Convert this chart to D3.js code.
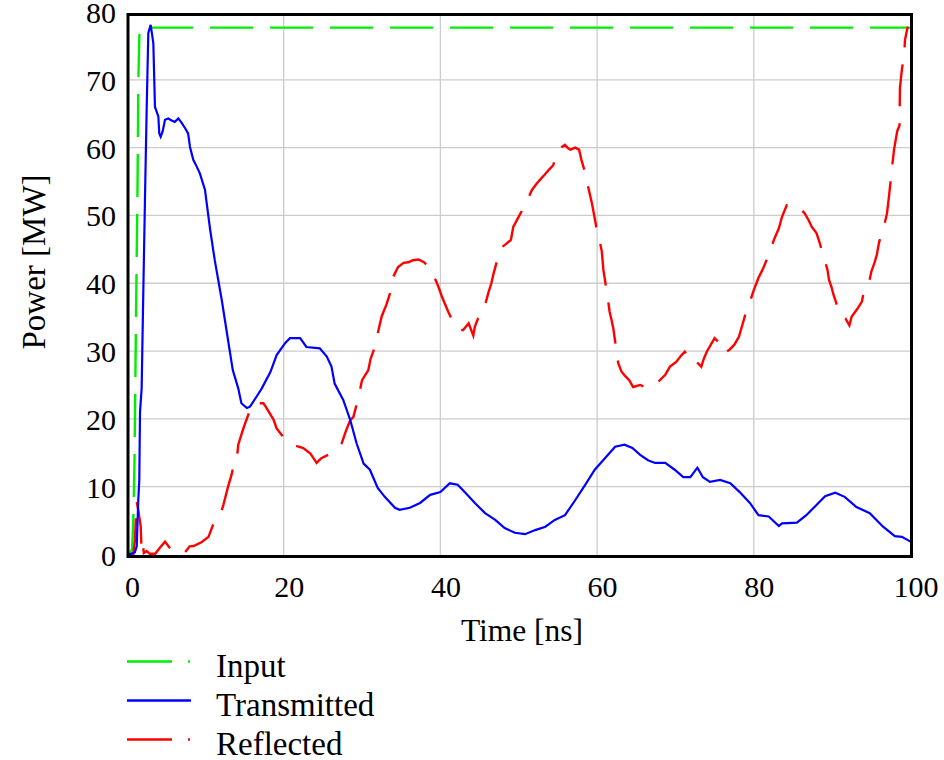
<!DOCTYPE html>
<html>
<head>
<meta charset="utf-8">
<script src="https://cdn.jsdelivr.net/npm/d3@7"></script>
<style>
  html, body { margin: 0; padding: 0; background: #fff; }
  svg { display: block; }
  text { font-family: "Liberation Serif", "Times New Roman", serif; fill: #000; }
</style>
</head>
<body>
<svg id="chart" width="944" height="760"></svg>
<script>
// Tick values and labels
const xTicks = [0, 20, 40, 60, 80, 100];
const yTicks = [0, 10, 20, 30, 40, 50, 60, 70, 80];

// Series: [time (ns), power (MW)]
const inputPower = [
  [0, 0], [0.4, 0.2], [0.65, 0.8], [0.8, 5], [0.95, 13], [1.05, 24], [1.2, 40],
  [1.35, 55], [1.45, 70], [1.6, 77.7], [100, 77.7]
];

const transmittedPower = [
  [0, 0], [0.5, 0.1], [1.0, 0.3], [1.24, 1.2], [1.44, 8], [1.57, 11], [1.66, 21],
  [1.87, 24.5], [2.1, 40], [2.3, 52.8], [2.51, 65.6], [2.72, 76.9], [3.02, 78.1],
  [3.36, 75.4], [3.57, 66], [4.0, 64.6], [4.12, 62.1], [4.3, 61.6], [4.55, 62.4],
  [4.85, 64.1], [5.27, 64.3], [5.7, 64], [6.1, 63.8], [6.55, 64.3], [7.0, 63.6],
  [7.4, 62.9], [7.8, 62.1], [8.04, 60.1], [8.46, 58.2], [8.9, 57.2], [9.3, 56.2],
  [9.95, 53.8], [10.6, 48], [11.2, 43.4], [12.1, 37.5], [12.9, 31.6], [13.5, 27.2],
  [14.2, 24.5], [14.6, 22.3], [15.3, 21.6], [15.7, 21.8], [16.55, 23.3], [17.2, 24.5],
  [18.3, 26.9], [19.1, 29.4], [20.2, 31.2], [20.8, 31.9], [22.1, 31.9], [22.9, 30.6],
  [24.6, 30.4], [25.5, 29.2], [26.1, 27.7], [26.5, 25.2], [27.6, 22.8], [28.5, 19.8],
  [29.3, 16.4], [30.2, 13.4], [31, 12.5], [32, 9.8], [32.9, 8.5], [34.2, 6.9],
  [34.8, 6.6], [36.1, 6.9], [37.4, 7.6], [38.7, 8.8], [40, 9.2], [41.2, 10.5],
  [42.2, 10.3], [43.1, 9.2], [44.4, 7.6], [45.7, 6.1], [47, 5.1], [48.2, 3.9],
  [49.5, 3.2], [50.8, 3], [52.1, 3.6], [53.4, 4.1], [54.6, 5.1], [55.9, 5.8],
  [57.2, 8], [58.5, 10.3], [59.7, 12.5], [61, 14.2], [62.3, 15.9], [63.5, 16.2],
  [64.5, 15.7], [65.5, 14.7], [66.5, 13.9], [67.4, 13.5], [68.7, 13.5], [69.9, 12.5],
  [71, 11.4], [71.9, 11.4], [72.8, 12.8], [73.5, 11.4], [74.4, 10.7], [75.7, 11],
  [77, 10.5], [78.2, 9.2], [79.5, 7.6], [80.6, 5.8], [81.9, 5.6], [83.2, 4.2],
  [83.6, 4.6], [85.5, 4.7], [86.7, 5.8], [88, 7.3], [89.1, 8.6], [90.4, 9.1],
  [91.6, 8.5], [93.1, 7], [94.8, 6.1], [96.5, 4.1], [98, 2.7], [98.9, 2.6], [100, 1.9]
];

const reflectedPower = [
  [0, 0], [0.8, 0.1], [1.0, 2], [1.24, 7.8], [1.45, 6.5], [1.75, 4.1], [1.85, 0.8],
  [2.0, 1.7], [2.15, 0.2], [2.5, 0.5], [2.9, 0.1], [3.6, 0.1], [4.2, 1.0], [4.85, 1.9],
  [5.5, 0.9], [6.1, 0.3], [7.4, 0.3], [8.0, 1.2], [8.5, 1.25], [9.5, 1.8], [10.4, 2.6],
  [11, 4.4], [11.9, 5.8], [12.3, 7.3], [12.9, 10], [13.4, 12], [13.6, 13.2], [14, 13.9],
  [14.2, 16.2], [14.8, 18.4], [15.1, 19.4], [15.7, 21.3], [16.1, 22.2], [16.8, 22.3],
  [17.4, 22.3], [17.7, 21.8], [18.7, 19.9], [19.1, 18.6], [19.9, 17.4], [21, 16.2],
  [22.5, 15.7], [23.4, 14.9], [24.2, 13.5], [24.8, 14.2], [25.7, 14.7], [26.8, 15.7],
  [27.4, 16.4], [28, 18.4], [28.5, 19.8], [28.9, 20.3], [29.5, 23], [30, 25.7],
  [30.8, 27.2], [31.1, 28.9], [31.8, 31.1], [32.1, 33.1], [32.5, 35.1], [33.1, 36.8],
  [33.7, 39], [34, 41], [34.6, 42.4], [35.3, 43], [35.9, 43.1], [36.5, 43.4],
  [37.2, 43.5], [37.9, 43.1], [38.7, 42.2], [39.1, 41.2], [39.5, 40.2], [39.9, 39],
  [40.2, 38], [41, 35.8], [41.4, 34.8], [42.1, 34.1], [42.5, 33.1], [42.9, 33.1],
  [43.6, 34.1], [44.2, 32.3], [44.4, 33.6], [44.8, 34.8], [45.3, 35.6], [45.7, 36.8],
  [46.1, 38.5], [46.5, 40], [46.8, 41.5], [47.2, 43.2], [47.8, 45.3], [48.4, 45.8],
  [49, 46.4], [49.3, 48.3], [49.9, 49.6], [50.6, 51.1], [51.2, 52.5], [51.7, 53.8],
  [52.3, 54.7], [52.9, 55.5], [53.3, 56], [53.9, 56.8], [54.4, 57.4], [54.6, 58.2],
  [55.1, 59.7], [55.5, 60.1], [55.9, 60.4], [56.3, 59.9], [56.6, 59.7], [57.2, 60],
  [57.7, 59.7], [58, 58.2], [58.5, 56.2], [58.7, 55], [59, 53.5], [59.3, 52],
  [59.5, 50.8], [59.9, 48.3], [60.3, 46.4], [60.6, 44.7], [60.8, 42], [61.2, 39],
  [61.4, 37.5], [61.6, 35.8], [61.9, 34.3], [62.1, 33.1], [62.4, 30.6], [62.7, 28.2],
  [63.1, 27], [63.6, 26.3], [64.1, 25.7], [64.6, 24.7], [65.5, 25], [66.1, 24.7],
  [66.5, 24.7], [67, 24.8], [67.4, 25], [68, 25.7], [68.7, 26.5], [69.3, 27.7],
  [70.1, 28.4], [70.7, 29.3], [71.2, 29.9], [71.6, 29.2], [72.1, 29.4], [72.7, 28.4],
  [73.3, 27.7], [73.6, 28.8], [74, 29.9], [74.5, 30.9], [75, 31.9], [75.7, 31.1],
  [76.2, 29.7], [76.9, 30.2], [77.5, 30.9], [78.1, 32.1], [78.6, 34.1], [79.1, 36.1],
  [79.6, 37.6], [80, 39], [80.6, 40.8], [81.2, 42.2], [81.9, 44.2], [82.6, 46.5],
  [83.2, 48.1], [83.6, 49.8], [84.2, 51.5], [84.6, 51.3], [85.2, 51.4], [85.8, 51.2],
  [86.5, 50.3], [87, 49.3], [87.4, 48.3], [88, 47.4], [88.4, 46], [88.7, 44.7],
  [89.1, 43.2], [89.4, 42], [89.6, 40.5], [89.9, 39.5], [90.2, 38.2], [90.6, 36.8],
  [91, 35.3], [91.7, 34.8], [92.2, 33.8], [92.5, 35.1], [93.2, 36.2], [93.8, 37.3],
  [94, 38.5], [94.6, 39.5], [95, 41.7], [95.4, 43], [95.7, 44.2], [96, 46.1],
  [96.6, 48.3], [97, 50.3], [97.3, 53.3], [97.6, 56.7], [97.9, 59.7], [98.3, 62.4],
  [98.6, 63.3], [98.65, 68.8], [98.9, 71.5], [99.2, 73.9], [99.3, 75.9], [99.6, 77.6],
  [99.7, 77.8]
];

const seriesNames = ["Input", "Transmitted", "Reflected"];
const seriesColors = ["#00ee00", "#0000ff", "#ff0000"];

// Layout
const frame = { left: 128, right: 911.5, top: 14.5, bottom: 556.5 };
const x = d3.scaleLinear().domain([0, 100]).range([127, 910.5]);
const y = d3.scaleLinear().domain([0, 80]).range([554.5, 12]);

const svg = d3.select("#chart");

// Grid lines
const grid = svg.append("g").attr("class", "grid");
grid.selectAll("line.gx")
  .data(xTicks.filter(t => t > 0 && t < 100))
  .join("line")
  .attr("x1", d => x(d)).attr("x2", d => x(d))
  .attr("y1", frame.top).attr("y2", frame.bottom)
  .attr("stroke", "#cccccc").attr("stroke-width", 1.3);
grid.selectAll("line.gy")
  .data(yTicks.filter(t => t > 0 && t < 80))
  .join("line")
  .attr("y1", d => y(d)).attr("y2", d => y(d))
  .attr("x1", frame.left).attr("x2", frame.right)
  .attr("stroke", "#cccccc").attr("stroke-width", 1.3);

// Axes (labels only; frame drawn separately)
const xAxis = d3.axisBottom(x).tickValues(xTicks).tickSize(0).tickPadding(0);
const gx = svg.append("g").attr("transform", "translate(5,597)").call(xAxis);
gx.select(".domain").remove();
gx.selectAll("text")
  .attr("dy", null).attr("y", 0)
  .style("font-size", "30px")
  .style("font-family", "'Liberation Serif', serif");

const yAxis = d3.axisLeft(y).tickValues(yTicks).tickSize(0).tickPadding(0);
const gy = svg.append("g").attr("transform", "translate(116,0)").call(yAxis);
gy.select(".domain").remove();
gy.selectAll("text")
  .attr("dy", "0.35em")
  .style("font-size", "30px")
  .style("font-family", "'Liberation Serif', serif");

// Axis titles
svg.append("text")
  .attr("x", 522).attr("y", 641)
  .attr("text-anchor", "middle")
  .style("font-size", "31.5px")
  .text("Time [ns]");
svg.append("text")
  .attr("transform", "translate(45,262) rotate(-90)")
  .attr("text-anchor", "middle")
  .style("font-size", "33px")
  .text("Power [MW]");

// Clip for the data lines
svg.append("clipPath").attr("id", "plotClip")
  .append("rect")
  .attr("x", frame.left).attr("y", frame.top)
  .attr("width", frame.right - frame.left).attr("height", frame.bottom - frame.top);

const line = d3.line().x(d => x(d[0])).y(d => y(d[1]));
const plot = svg.append("g").attr("clip-path", "url(#plotClip)");

plot.append("path")
  .datum(inputPower)
  .attr("d", line)
  .attr("fill", "none")
  .attr("stroke", seriesColors[0])
  .attr("stroke-width", 2.4)
  .attr("stroke-dasharray", "43,17");

plot.append("path")
  .datum(reflectedPower)
  .attr("d", line)
  .attr("fill", "none")
  .attr("stroke", seriesColors[2])
  .attr("stroke-width", 2.4)
  .attr("stroke-dasharray", "42,17");

plot.append("path")
  .datum(transmittedPower)
  .attr("d", line)
  .attr("fill", "none")
  .attr("stroke", seriesColors[1])
  .attr("stroke-width", 2.2);

// Plot frame
svg.append("rect")
  .attr("x", frame.left).attr("y", frame.top)
  .attr("width", frame.right - frame.left).attr("height", frame.bottom - frame.top)
  .attr("fill", "none")
  .attr("stroke", "#000")
  .attr("stroke-width", 3);

// Legend
const legendY = [661.5, 700.5, 739.5];
const legendDash = ["45,16,2,100", null, "45,16,2,100"];
const legend = svg.append("g");
seriesNames.forEach((name, i) => {
  legend.append("line")
    .attr("x1", 127).attr("x2", 191)
    .attr("y1", legendY[i]).attr("y2", legendY[i])
    .attr("stroke", seriesColors[i])
    .attr("stroke-width", 2.4)
    .attr("stroke-dasharray", legendDash[i]);
  legend.append("text")
    .attr("x", 216).attr("y", legendY[i] + 15.5)
    .style("font-size", "33px")
    .text(name);
});
</script>
</body>
</html>
